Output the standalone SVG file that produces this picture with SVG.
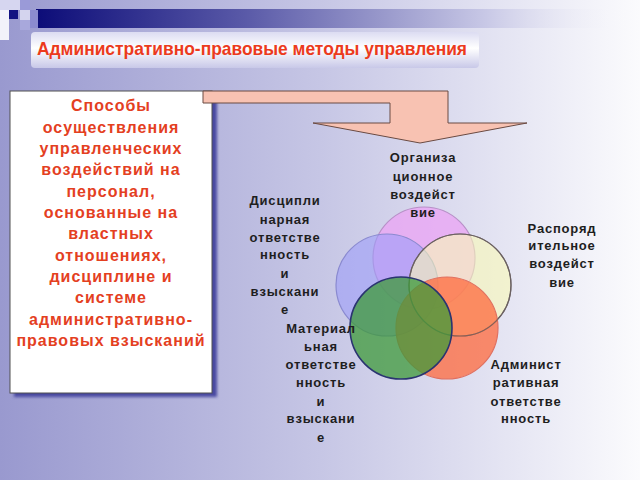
<svg xmlns="http://www.w3.org/2000/svg" width="640" height="480" viewBox="0 0 640 480">
<style>
.title{font-family:"Liberation Sans",Arial,sans-serif;font-weight:bold;font-size:19px;fill:#ec3a1c;}
.box{font-family:"Liberation Sans",Arial,sans-serif;font-weight:bold;font-size:16px;fill:#e4401f;letter-spacing:1px;text-anchor:middle;}
.lbl{font-family:"Liberation Sans",Arial,sans-serif;font-weight:bold;font-size:13px;fill:#1e1e1e;letter-spacing:0.8px;text-anchor:middle;}
.c{stroke-width:1.2;}
</style>
<defs>
<linearGradient id="bg" x1="0" y1="0" x2="1" y2="0">
<stop offset="0" stop-color="#9999cf"/>
<stop offset="0.5" stop-color="#c6c6e5"/>
<stop offset="1" stop-color="#fbfbfd"/>
</linearGradient>
<linearGradient id="band" x1="0" y1="0" x2="1" y2="0">
<stop offset="0" stop-color="#0c0c78"/>
<stop offset="0.35" stop-color="#5a5aa8"/>
<stop offset="0.75" stop-color="#c8c8e6"/>
<stop offset="1" stop-color="#ffffff" stop-opacity="0"/>
</linearGradient>
<linearGradient id="tbox" x1="0" y1="0" x2="0" y2="1">
<stop offset="0" stop-color="#dcdcf2"/>
<stop offset="0.45" stop-color="#ffffff"/>
<stop offset="1" stop-color="#c8c8e8"/>
</linearGradient>
<filter id="blur" x="-10%" y="-10%" width="120%" height="120%"><feGaussianBlur stdDeviation="1.5"/></filter>
</defs>
<rect x="0" y="0" width="640" height="480" fill="url(#bg)"/>
<rect x="36" y="9" width="600" height="19" fill="url(#band)"/>
<g id="squares">
<rect x="0" y="0" width="20" height="10" fill="#d6d6f0"/>
<rect x="20" y="0" width="10" height="10" fill="#9a9ad8"/>
<rect x="0" y="10" width="9" height="30" fill="#f2f2fa"/>
<rect x="9" y="10" width="9" height="9" fill="#121282"/>
<rect x="20" y="10" width="10" height="10" fill="#d4d4ee"/>
<rect x="30" y="10" width="8" height="18" fill="#8c8cd0"/>
<rect x="20" y="20" width="10" height="10" fill="#a8a8dc"/>
</g>
<g id="title">
<rect x="31" y="32" width="448" height="36" rx="4" fill="url(#tbox)"/>
<text class="title" x="37" y="55" textLength="430" lengthAdjust="spacingAndGlyphs">Административно-правовые методы управления</text>
</g>
<g id="left-box">
<rect x="14" y="95" width="203" height="302" fill="#4a4aa0" filter="url(#blur)"/>
<rect x="10" y="91" width="202" height="302" fill="#ffffff" stroke="#505050" stroke-width="1"/>
<text class="box" x="111" y="111">Способы</text>
<text class="box" x="111" y="132.5">осуществления</text>
<text class="box" x="111" y="154">управленческих</text>
<text class="box" x="111" y="175">воздействий на</text>
<text class="box" x="111" y="196.5">персонал,</text>
<text class="box" x="111" y="218">основанные на</text>
<text class="box" x="111" y="239">властных</text>
<text class="box" x="111" y="260.5">отношениях,</text>
<text class="box" x="111" y="282">дисциплине и</text>
<text class="box" x="111" y="303">системе</text>
<text class="box" x="111" y="324.5">административно-</text>
<text class="box" x="111" y="346">правовых взысканий</text>
</g>
<g id="connectors">
<path d="M203,91 L448,91 L448,123 L527,123 L420,143 L313,123 L390,123 L390,103 L203,103 Z" fill="#f8c2b2" stroke="#6a4a42" stroke-width="1"/>
</g>
<g id="circles">
<circle id="c-org" class="c" cx="424" cy="258" r="51" fill="#eaa6f4" fill-opacity="0.8" stroke="#b890c8"/>
<circle id="c-disc" class="c" cx="387" cy="285" r="51" fill="#9c9cf8" fill-opacity="0.6" stroke="#8a8ad0"/>
<circle id="c-rasp" class="c" cx="460" cy="285" r="51" fill="#fafab8" fill-opacity="0.6" stroke="#6a6060"/>
<circle id="c-adm" class="c" cx="447" cy="328" r="51" fill="#ff6a3c" fill-opacity="0.75" stroke="#e07060"/>
<circle cx="460" cy="285" r="51" fill="none" stroke="#6a6060" stroke-width="1.2" stroke-opacity="0.8"/>
<circle id="c-mat" cx="401" cy="328" r="51" fill="#3e9a3a" fill-opacity="0.75" stroke="#2a3470" stroke-width="1.6"/>
</g>
<g id="label-org">
<text class="lbl" x="423" y="162">Организа</text>
<text class="lbl" x="423" y="180.5">ционное</text>
<text class="lbl" x="423" y="199">воздейст</text>
<text class="lbl" x="423" y="217">вие</text>
</g>
<g id="label-disc">
<text class="lbl" x="285" y="205">Дисципли</text>
<text class="lbl" x="285" y="224">нарная</text>
<text class="lbl" x="285" y="242">ответстве</text>
<text class="lbl" x="285" y="259">нность</text>
<text class="lbl" x="285" y="278">и</text>
<text class="lbl" x="285" y="296">взыскани</text>
<text class="lbl" x="285" y="314">е</text>
</g>
<g id="label-rasp">
<text class="lbl" x="562" y="233">Распоряд</text>
<text class="lbl" x="562" y="250">ительное</text>
<text class="lbl" x="562" y="268">воздейст</text>
<text class="lbl" x="562" y="287">вие</text>
</g>
<g id="label-mat">
<text class="lbl" x="321" y="333">Материал</text>
<text class="lbl" x="321" y="351">ьная</text>
<text class="lbl" x="321" y="369">ответстве</text>
<text class="lbl" x="321" y="387">нность</text>
<text class="lbl" x="321" y="406">и</text>
<text class="lbl" x="321" y="423">взыскани</text>
<text class="lbl" x="321" y="442">е</text>
</g>
<g id="label-adm">
<text class="lbl" x="526" y="369">Админист</text>
<text class="lbl" x="526" y="387">ративная</text>
<text class="lbl" x="526" y="406">ответстве</text>
<text class="lbl" x="526" y="423">нность</text>
</g>
</svg>
